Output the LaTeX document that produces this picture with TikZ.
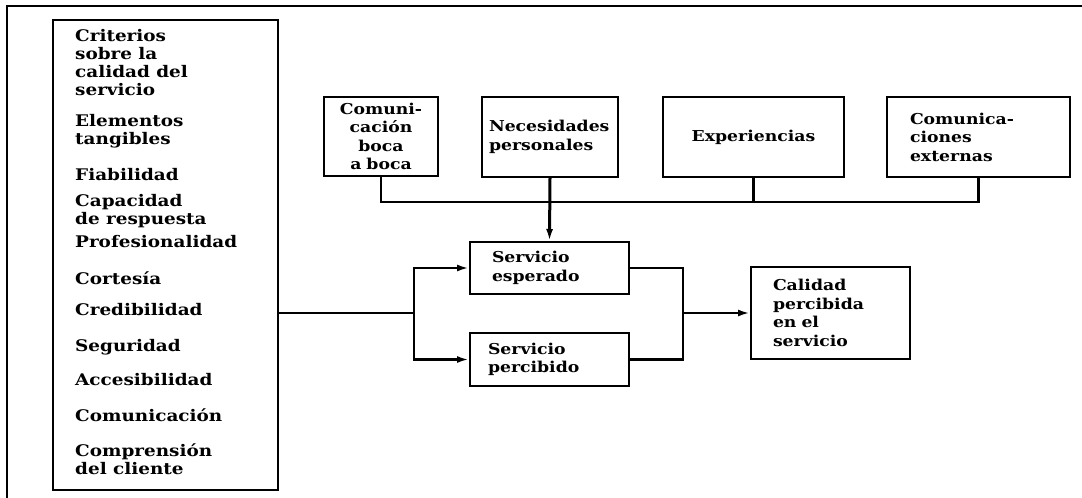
\documentclass[tikz,border=0pt]{standalone}
\usepackage{fontspec}
\setmainfont{DejaVu Serif}[FakeStretch=1.15]
\usetikzlibrary{shapes,arrows.meta}
\tikzstyle{textbox} = [rectangle, draw, line width=2pt, inner ysep=0pt,
    align=left, font=\bfseries\fontsize{15}{18.5}\selectfont]
\tikzstyle{critline} = [anchor=west, inner sep=0pt, align=left,
    font=\bfseries\fontsize{16}{18.3}\selectfont]
\tikzstyle{link} = [line width=2.6pt]
\tikzstyle{linkarrow} = [line width=2.4pt, -{Latex[length=12pt,width=7pt]}]

\begin{document}
\begin{tikzpicture}[x=1pt, y=-1pt]
    \useasboundingbox (0,0) rectangle (1082,498);
    \draw [line width=2pt] (7,498) -- (7,6) -- (1082,6);
    % left column
    \node [rectangle, draw, line width=2pt, minimum width=225pt, minimum height=470pt] (criterios) at (165.5,255) {};
    \node [critline] (c1) at (75,62.5) {Criterios\\sobre la\\calidad del\\servicio};
    \node [critline] (c2) at (75,131.5) {Elementos\\tangibles};
    \node [critline] (c3) at (75,175) {Fiabilidad};
    \node [critline] (c4) at (75,211) {Capacidad\\de respuesta};
    \node [critline] (c5) at (75,242) {Profesionalidad};
    \node [critline] (c6) at (75,278) {Cortesía};
    \node [critline] (c7) at (75,310) {Credibilidad};
    \node [critline] (c8) at (75,347) {Seguridad};
    \node [critline] (c9) at (75,380) {Accesibilidad};
    \node [critline] (c10) at (75,415) {Comunicación};
    \node [critline] (c11) at (75,459) {Comprensión\\del cliente};
    % top row
    \node [textbox, align=center, text width=100pt, inner xsep=7pt, minimum height=79pt] (boca) at (381,136.5) {Comuni-\\cación\\boca\\a boca};
    \node [textbox, text width=122pt, inner xsep=7pt, minimum height=80pt] (necesidades) at (550,137) {Necesidades\\personales};
    \node [textbox, align=center, text width=167pt, inner xsep=7pt, minimum height=80pt] (experiencias) at (753.5,137) {Experiencias};
    \node [textbox, text width=137pt, inner xsep=23pt, minimum height=80pt] (externas) at (978.5,137) {Comunica-\\ciones\\externas};
    % middle
    \node [textbox, text width=115pt, inner xsep=22pt, minimum height=52pt] (esperado) at (549.5,268) {Servicio\\esperado};
    \node [textbox, text width=123pt, inner xsep=18pt, minimum height=53pt] (percibido) at (549.5,359.5) {Servicio\\percibido};
    \node [textbox, text width=115pt, inner xsep=22pt, minimum height=92pt] (calidad) at (830.5,313) {Calidad\\percibida\\en el\\servicio};
    \coordinate (bus) at (0,202);
    \coordinate (split) at (414,313);
    \coordinate (join) at (683,313);
    % Draw edges
    \draw [link] (boca.south) -- (boca.south |- bus) -- (externas.south |- bus) -- (externas.south);
    \draw [link] (experiencias.south) -- (experiencias.south |- bus);
    \draw [linkarrow, line width=3pt] (necesidades.south) -- (esperado.north);
    \draw [link] (criterios.east |- split) -- (split);
    \draw [linkarrow] (split) |- (esperado.west);
    \draw [linkarrow] (split) |- (percibido.west);
    \draw [link] (esperado.east) -| (join);
    \draw [link] (percibido.east) -| (join);
    \draw [linkarrow] (join) -- (calidad.west);
\end{tikzpicture}
\end{document}
